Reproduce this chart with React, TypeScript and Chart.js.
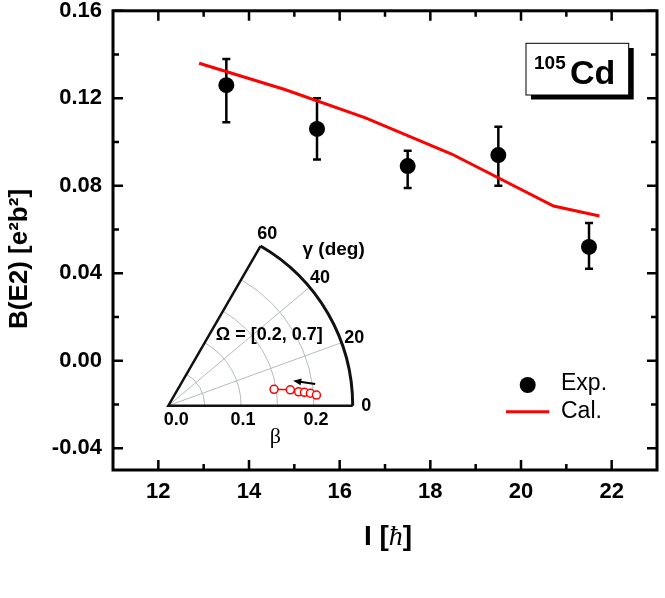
import { useEffect, useRef } from "react";
import { Chart, registerables } from "chart.js";

Chart.register(...registerables);

// experimental B(E2) values with error bars
const expSpin = [13.5, 15.5, 17.5, 19.5, 21.5];
const expBE2 = [0.126, 0.106, 0.089, 0.094, 0.052];
const expLow = [0.109, 0.092, 0.079, 0.08, 0.042];
const expHigh = [0.138, 0.12, 0.096, 0.107, 0.063];

// calculated curve
const calSpin = [12.9, 14.79, 16.57, 18.47, 20.72, 21.73];
const calBE2 = [0.136, 0.124, 0.111, 0.0945, 0.0707, 0.0662];

const xMajor = [12, 14, 16, 18, 20, 22];
const xMinor = [13, 15, 17, 19, 21];
const yMajor = [-0.04, 0, 0.04, 0.08, 0.12, 0.16];
const yMinor = [-0.02, 0.02, 0.06, 0.1, 0.14];

// inset: path in the beta-gamma plane
const pathBeta = [0.147, 0.169, 0.18, 0.188, 0.196, 0.204];
const pathGamma = [8.8, 7.4, 6.1, 5.6, 5.0, 4.1];
const arrowFrom = { beta: 0.204, gamma: 8.4 };
const arrowTo = { beta: 0.175, gamma: 11.3 };
const betaGrid = [0.05, 0.1, 0.15, 0.2];
const gammaGrid = [20, 40];
const betaTicks = [0, 0.1, 0.2];
const gammaTicks = [0, 20, 40, 60];
const betaMax = 0.2533;

const SANS = '"Liberation Sans", Arial, sans-serif';
const SERIF = '"Liberation Serif", "Times New Roman", serif';

const mainDecor = {
  id: "mainDecor",
  beforeDatasetsDraw(chart: any) {
    const { ctx } = chart;
    const x = chart.scales.x;
    const y = chart.scales.y;
    ctx.save();
    ctx.strokeStyle = "#000";
    ctx.lineWidth = 2.5;
    expSpin.forEach((s, i) => {
      const px = x.getPixelForValue(s);
      const top = y.getPixelForValue(expHigh[i]);
      const bot = y.getPixelForValue(expLow[i]);
      ctx.beginPath();
      ctx.moveTo(px, top);
      ctx.lineTo(px, bot);
      ctx.moveTo(px - 4, top);
      ctx.lineTo(px + 4, top);
      ctx.moveTo(px - 4, bot);
      ctx.lineTo(px + 4, bot);
      ctx.stroke();
    });
    ctx.restore();
  },
  afterDraw(chart: any) {
    const { ctx, chartArea: a } = chart;
    const x = chart.scales.x;
    const y = chart.scales.y;
    ctx.save();
    ctx.strokeStyle = "#000";

    // ticks (inward, all four sides)
    ctx.lineWidth = 2.5;
    const tick = (vals: number[], len: number) => {
      vals.forEach((v) => {
        const px = x.getPixelForValue(v);
        ctx.beginPath();
        ctx.moveTo(px, a.bottom);
        ctx.lineTo(px, a.bottom - len);
        ctx.moveTo(px, a.top);
        ctx.lineTo(px, a.top + len);
        ctx.stroke();
      });
    };
    const ytick = (vals: number[], len: number) => {
      vals.forEach((v) => {
        const py = y.getPixelForValue(v);
        ctx.beginPath();
        ctx.moveTo(a.left, py);
        ctx.lineTo(a.left + len, py);
        ctx.moveTo(a.right, py);
        ctx.lineTo(a.right - len, py);
        ctx.stroke();
      });
    };
    tick(xMajor, 10);
    tick(xMinor, 6);
    ytick(yMajor, 10);
    ytick(yMinor, 6);

    // frame
    ctx.lineWidth = 3;
    ctx.strokeRect(a.left, a.top, a.right - a.left, a.bottom - a.top);

    // nucleus label box with shadow
    ctx.fillStyle = "#000";
    ctx.fillRect(531, 48, 102.7, 51.5);
    ctx.fillStyle = "#fff";
    ctx.fillRect(526, 43.3, 102.7, 51.7);
    ctx.lineWidth = 1;
    ctx.strokeRect(526, 43.3, 102.7, 51.7);
    ctx.fillStyle = "#000";
    ctx.textBaseline = "alphabetic";
    ctx.textAlign = "left";
    ctx.font = `bold 19px ${SANS}`;
    ctx.fillText("105", 534, 68.5);
    ctx.font = `bold 34px ${SANS}`;
    ctx.fillText("Cd", 570, 83.5);

    // legend
    ctx.beginPath();
    ctx.arc(527.7, 385, 8, 0, Math.PI * 2);
    ctx.fill();
    ctx.strokeStyle = "#ff0000";
    ctx.lineWidth = 3;
    ctx.beginPath();
    ctx.moveTo(506, 411.7);
    ctx.lineTo(549.3, 411.7);
    ctx.stroke();
    ctx.font = `23px ${SANS}`;
    ctx.textBaseline = "middle";
    ctx.fillText("Exp.", 561, 384);
    ctx.fillText("Cal.", 561, 412);

    // y title
    ctx.save();
    ctx.translate(20, 259);
    ctx.rotate(-Math.PI / 2);
    ctx.textAlign = "center";
    ctx.font = `bold 26px ${SANS}`;
    ctx.fillText("B(E2) [e\u00b2b\u00b2]", 0, 0);
    ctx.restore();

    // x title: I [ħ]
    ctx.textBaseline = "alphabetic";
    const partA = "I [";
    const partB = "\u0127";
    const partC = "]";
    ctx.font = `bold 28px ${SANS}`;
    const wA = ctx.measureText(partA).width;
    const wC = ctx.measureText(partC).width;
    ctx.font = `italic 28px ${SERIF}`;
    const wB = ctx.measureText(partB).width;
    let cx = 388 - (wA + wB + wC) / 2;
    ctx.textAlign = "left";
    ctx.font = `bold 28px ${SANS}`;
    ctx.fillText(partA, cx, 545);
    cx += wA;
    ctx.font = `italic 28px ${SERIF}`;
    ctx.fillText(partB, cx, 545);
    cx += wB;
    ctx.font = `bold 28px ${SANS}`;
    ctx.fillText(partC, cx, 545);

    ctx.restore();
  },
};

const insetDecor = {
  id: "insetDecor",
  beforeDatasetsDraw(chart: any) {
    const { ctx } = chart;
    const x = chart.scales.x;
    const y = chart.scales.y;
    const ox = x.getPixelForValue(0);
    const oy = y.getPixelForValue(0);
    const toPx = (b: number, gDeg: number) => {
      const g = (gDeg * Math.PI) / 180;
      return [x.getPixelForValue(b * Math.cos(g)), y.getPixelForValue(b * Math.sin(g))];
    };
    const rad = (b: number) => x.getPixelForValue(b) - ox;
    ctx.save();

    // grid
    ctx.strokeStyle = "#b4bcbc";
    ctx.lineWidth = 1;
    betaGrid.forEach((b) => {
      ctx.beginPath();
      ctx.arc(ox, oy, rad(b), -Math.PI / 3, 0);
      ctx.stroke();
    });
    gammaGrid.forEach((g) => {
      const [px, py] = toPx(betaMax, g);
      ctx.beginPath();
      ctx.moveTo(ox, oy);
      ctx.lineTo(px, py);
      ctx.stroke();
    });

    // sector border
    ctx.strokeStyle = "#111";
    ctx.lineWidth = 2.5;
    const [ex, ey] = toPx(betaMax, 0);
    const [tx, ty] = toPx(betaMax, 60);
    ctx.beginPath();
    ctx.moveTo(ex, ey);
    ctx.lineTo(ox, oy);
    ctx.lineTo(tx, ty);
    ctx.stroke();
    ctx.lineWidth = 3;
    ctx.beginPath();
    ctx.arc(ox, oy, rad(betaMax), -Math.PI / 3, 0);
    ctx.stroke();

    // labels
    ctx.fillStyle = "#000";
    ctx.textAlign = "center";
    ctx.textBaseline = "middle";
    ctx.font = `bold 18px ${SANS}`;
    gammaTicks.forEach((g) => {
      const [px, py] = toPx(0.272, g);
      ctx.fillText(String(g), px, py);
    });
    betaTicks.forEach((b, i) => {
      ctx.fillText(b.toFixed(1), x.getPixelForValue(b) + (i === 0 ? 8 : 2), oy + 14);
    });
    ctx.fillText("\u03a9 = [0.2, 0.7]", ox + 101, oy - 71);
    const [gx, gy] = toPx(0.312, 43.3);
    ctx.font = `bold 19px ${SANS}`;
    ctx.fillText("\u03b3 (deg)", gx, gy);
    ctx.font = `22px ${SERIF}`;
    ctx.fillText("\u03b2", ox + 107, oy + 32);
    ctx.restore();
  },
  afterDatasetsDraw(chart: any) {
    const { ctx } = chart;
    const x = chart.scales.x;
    const y = chart.scales.y;
    const toPx = (b: number, gDeg: number) => {
      const g = (gDeg * Math.PI) / 180;
      return [x.getPixelForValue(b * Math.cos(g)), y.getPixelForValue(b * Math.sin(g))];
    };
    const [x0, y0] = toPx(arrowFrom.beta, arrowFrom.gamma);
    const [x1, y1] = toPx(arrowTo.beta, arrowTo.gamma);
    const ang = Math.atan2(y1 - y0, x1 - x0);
    ctx.save();
    ctx.strokeStyle = "#000";
    ctx.fillStyle = "#000";
    ctx.lineWidth = 2;
    ctx.beginPath();
    ctx.moveTo(x0, y0);
    ctx.lineTo(x1 - 5 * Math.cos(ang), y1 - 5 * Math.sin(ang));
    ctx.stroke();
    ctx.beginPath();
    ctx.moveTo(x1, y1);
    ctx.lineTo(x1 - 8 * Math.cos(ang) + 3.5 * Math.sin(ang), y1 - 8 * Math.sin(ang) - 3.5 * Math.cos(ang));
    ctx.lineTo(x1 - 8 * Math.cos(ang) - 3.5 * Math.sin(ang), y1 - 8 * Math.sin(ang) + 3.5 * Math.cos(ang));
    ctx.closePath();
    ctx.fill();
    ctx.restore();
  },
};

export default function App() {
  const mainRef = useRef<HTMLCanvasElement>(null);
  const insetRef = useRef<HTMLCanvasElement>(null);

  useEffect(() => {
    if (!mainRef.current || !insetRef.current) return;

    const main = new Chart(mainRef.current, {
      type: "scatter",
      data: {
        datasets: [
          {
            label: "Cal.",
            data: calSpin.map((s, i) => ({ x: s, y: calBE2[i] })),
            showLine: true,
            borderColor: "#ff0000",
            borderWidth: 3,
            pointRadius: 0,
            tension: 0,
          },
          {
            label: "Exp.",
            data: expSpin.map((s, i) => ({ x: s, y: expBE2[i] })),
            pointRadius: 8,
            pointBackgroundColor: "#000",
            pointBorderColor: "#000",
            pointBorderWidth: 0,
          },
        ],
      },
      options: {
        animation: false,
        responsive: true,
        maintainAspectRatio: false,
        events: [],
        layout: { padding: { top: 10.8, right: 2, left: 0, bottom: 0 } },
        plugins: { legend: { display: false }, tooltip: { enabled: false } },
        scales: {
          x: {
            type: "linear",
            position: "bottom",
            min: 11,
            max: 23,
            afterBuildTicks: (s: any) => {
              s.ticks = xMajor.map((v) => ({ value: v }));
            },
            afterFit: (s: any) => {
              s.height = 128;
              s.paddingLeft = 0;
              s.paddingRight = 0;
            },
            grid: { display: false, drawTicks: false },
            border: { display: false },
            ticks: {
              autoSkip: false,
              maxRotation: 0,
              padding: 9,
              color: "#000",
              font: { family: SANS, size: 22, weight: "bold" },
              callback: (v: any) => String(v),
            },
          },
          y: {
            type: "linear",
            position: "left",
            min: -0.05,
            max: 0.16,
            afterBuildTicks: (s: any) => {
              s.ticks = yMajor.map((v) => ({ value: v }));
            },
            afterFit: (s: any) => {
              s.width = 113;
              s.paddingTop = 0;
              s.paddingBottom = 0;
            },
            grid: { display: false, drawTicks: false },
            border: { display: false },
            ticks: {
              padding: 11,
              color: "#000",
              font: { family: SANS, size: 22, weight: "bold" },
              callback: (v: any) => Number(v).toFixed(2),
            },
          },
        },
      },
      plugins: [mainDecor],
    } as any);

    const inset = new Chart(insetRef.current, {
      type: "scatter",
      data: {
        datasets: [
          {
            data: pathBeta.map((b, i) => {
              const g = (pathGamma[i] * Math.PI) / 180;
              return { x: b * Math.cos(g), y: b * Math.sin(g) };
            }),
            showLine: true,
            borderColor: "#ff0000",
            borderWidth: 1.5,
            pointRadius: 4,
            pointBackgroundColor: "#fff",
            pointBorderColor: "#ff0000",
            pointBorderWidth: 1.5,
            clip: false,
          },
        ],
      },
      options: {
        animation: false,
        responsive: true,
        maintainAspectRatio: false,
        events: [],
        layout: { padding: { left: 28.3, top: 21.3, right: 47.3, bottom: 49.3 } },
        plugins: { legend: { display: false }, tooltip: { enabled: false } },
        scales: {
          x: { type: "linear", display: false, min: 0, max: betaMax },
          y: { type: "linear", display: false, min: 0, max: betaMax },
        },
      },
      plugins: [insetDecor],
    } as any);

    return () => {
      main.destroy();
      inset.destroy();
    };
  }, []);

  return (
    <div style={{ position: "absolute", left: 0, top: 0, width: 665, height: 598, background: "#fff" }}>
      <div style={{ position: "absolute", left: 0, top: 0, width: 665, height: 598 }}>
        <canvas ref={mainRef} />
      </div>
      <div style={{ position: "absolute", left: 140, top: 200, width: 260, height: 255, pointerEvents: "none" }}>
        <canvas ref={insetRef} />
      </div>
    </div>
  );
}
